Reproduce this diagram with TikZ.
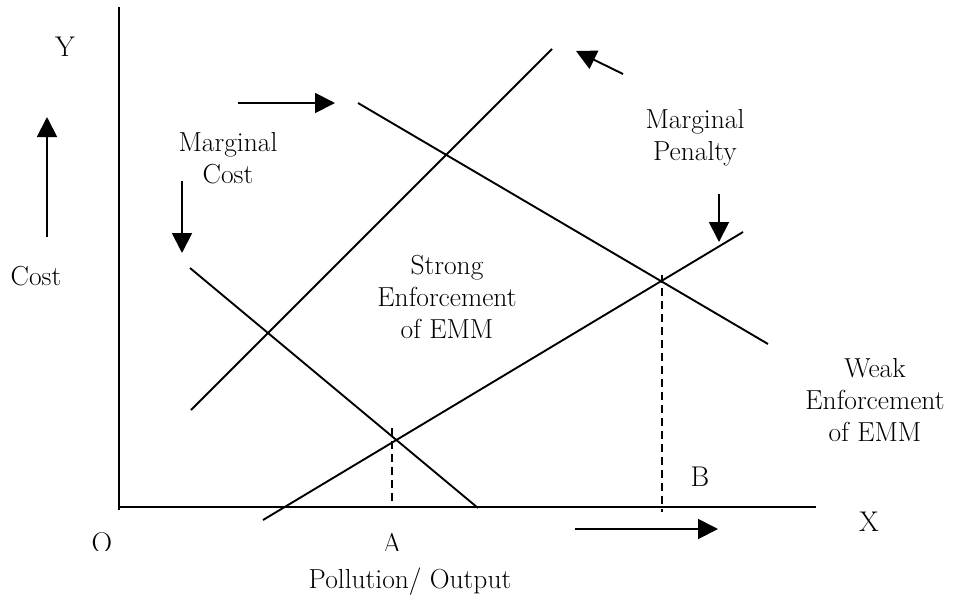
\documentclass[tikz,border=0pt]{standalone}
\usetikzlibrary{arrows.meta}
\begin{document}
\begin{tikzpicture}[x=1pt,y=-1pt,
  curve/.style={line width=1.9pt},
  axisline/.style={line width=2.1pt},
  guide/.style={line width=1.9pt,dash pattern=on 8pt off 5pt},
  shiftarrow/.style={line width=1.9pt,-{Triangle[length=20pt,width=20pt]}},
  lbl/.style={font=\fontsize{27.5}{32}\selectfont,align=center,inner sep=0pt},
  letter/.style={font=\fontsize{28.5}{32}\selectfont,inner sep=0pt}]
\useasboundingbox (0,0) rectangle (953,597);

% axes
\coordinate (ytop) at (119,7);
\coordinate (origin) at (119,507);
\coordinate (xend) at (816,507);
\draw[axisline] (ytop) -- (119,510);
\draw[axisline] (origin) -- (xend);

% marginal cost curves
\coordinate (mcA1) at (190,268);
\coordinate (mcA2) at (478,508);
\coordinate (mcB1) at (191,410);
\coordinate (mcB2) at (552,49);
\draw[curve] (mcA1) -- (mcA2);
\draw[curve] (mcB1) -- (mcB2);

% marginal penalty curves
\coordinate (mpA1) at (263,520);
\coordinate (mpA2) at (743,232);
\coordinate (mpB1) at (358,103);
\coordinate (mpB2) at (768,344);
\draw[curve] (mpA1) -- (mpA2);
\draw[curve] (mpB1) -- (mpB2);

% equilibrium guides
\coordinate (gA1) at (392,428);
\coordinate (gA2) at (392,503);
\coordinate (gB1) at (662,275);
\coordinate (gB2) at (662,512);
\draw[guide] (gA1) -- (gA2);
\draw[guide] (gB1) -- (gB2);

% direction arrows
\coordinate (upS) at (47,237);  \coordinate (upE) at (47,117);
\coordinate (rtS) at (238,103); \coordinate (rtE) at (335,103);
\coordinate (mcS) at (182,181); \coordinate (mcE) at (182,253);
\coordinate (mpS) at (719,194); \coordinate (mpE) at (719,242);
\coordinate (ulS) at (623,74);  \coordinate (ulE) at (576,51);
\coordinate (btS) at (575,529); \coordinate (btE) at (718,529);
\draw[shiftarrow] (upS) -- (upE);
\draw[shiftarrow] (rtS) -- (rtE);
\draw[shiftarrow] (mcS) -- (mcE);
\draw[shiftarrow] (mpS) -- (mpE);
\draw[shiftarrow] (ulS) -- (ulE);
\draw[shiftarrow] (btS) -- (btE);

% labels
\node[letter] (ylab) at (65,47) {Y};
\node[letter] (xlab) at (869,522) {X};
\node[letter] (blab) at (700,477) {B};
\node[lbl] (costlab) at (36,276) {Cost};
\node[lbl] (mclab) at (228,158) {Marginal\\Cost};
\node[lbl] (mplab) at (695,138) {Marginal\\Penalty};
\node[lbl] (stronglab) at (447,297) {Strong\\Enforcement\\of EMM};
\node[lbl] (weaklab) at (875,400) {Weak\\Enforcement\\of EMM};
\node[lbl] (poll) at (410,582) {Pollution/ Output};
\begin{scope}
  \clip (0,0) rectangle (953,550);
  \node[letter] (olab) at (102,543) {O};
  \node[letter] (alab) at (392,543) {A};
\end{scope}
\end{tikzpicture}
\end{document}
